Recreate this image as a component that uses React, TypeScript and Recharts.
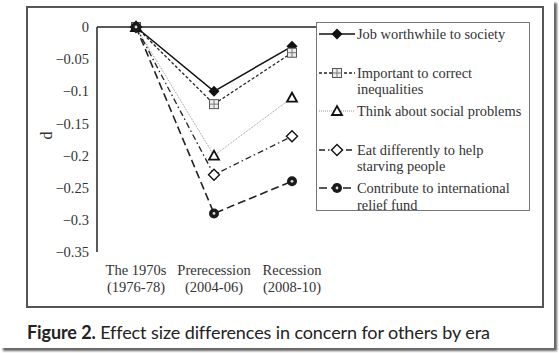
import React from 'react';
import {
  LineChart,
  Line,
  XAxis,
  YAxis,
  ReferenceLine,
  Legend,
} from 'recharts';

const categories = ['The 1970s', 'Prerecession', 'Recession'];
const periods = ['(1976-78)', '(2004-06)', '(2008-10)'];

const jobWorthwhile = [0, -0.1, -0.03];
const correctInequalities = [0, -0.12, -0.04];
const socialProblems = [0, -0.2, -0.11];
const eatDifferently = [0, -0.23, -0.17];
const reliefFund = [0, -0.29, -0.24];

const yTicks = [0, -0.05, -0.1, -0.15, -0.2, -0.25, -0.3, -0.35];

const series = [
  { key: 'job', label: ['Job worthwhile to society'], values: jobWorthwhile, marker: 'diamond', stroke: '#111', width: 1.5, dash: undefined },
  { key: 'ineq', label: ['Important to correct', 'inequalities'], values: correctInequalities, marker: 'square', stroke: '#222', width: 1.3, dash: '3 2' },
  { key: 'social', label: ['Think about social problems'], values: socialProblems, marker: 'triangle', stroke: '#999', width: 1, dash: '1 1' },
  { key: 'eat', label: ['Eat differently to help', 'starving people'], values: eatDifferently, marker: 'openDiamond', stroke: '#222', width: 1.3, dash: '6 3 1.5 3' },
  { key: 'fund', label: ['Contribute to international', 'relief fund'], values: reliefFund, marker: 'circle', stroke: '#222', width: 1.6, dash: '8 4' },
];

const data = categories.map((name, i) => {
  const row: Record<string, string | number> = { name };
  series.forEach((s) => {
    row[s.key] = s.values[i];
  });
  return row;
});

const serif = '"Liberation Serif", "Times New Roman", serif';

const Marker = ({ type, cx, cy }: { type: string; cx: number; cy: number }) => {
  if (type === 'diamond') {
    const r = 5.5;
    return <polygon points={`${cx},${cy - r} ${cx + r},${cy} ${cx},${cy + r} ${cx - r},${cy}`} fill="#111" />;
  }
  if (type === 'openDiamond') {
    const r = 5.5;
    return (
      <polygon
        points={`${cx},${cy - r} ${cx + r},${cy} ${cx},${cy + r} ${cx - r},${cy}`}
        fill="#fff"
        stroke="#111"
        strokeWidth={1.4}
      />
    );
  }
  if (type === 'square') {
    const h = 4.5;
    return (
      <g>
        <rect x={cx - h} y={cy - h} width={h * 2} height={h * 2} fill="#eee" stroke="#555" strokeWidth={1} />
        <line x1={cx} y1={cy - h} x2={cx} y2={cy + h} stroke="#777" strokeWidth={1} />
        <line x1={cx - h} y1={cy} x2={cx + h} y2={cy} stroke="#777" strokeWidth={1} />
      </g>
    );
  }
  if (type === 'triangle') {
    return (
      <polygon
        points={`${cx},${cy - 5} ${cx + 5},${cy + 4} ${cx - 5},${cy + 4}`}
        fill="#fff"
        stroke="#111"
        strokeWidth={1.8}
      />
    );
  }
  return (
    <g>
      <circle cx={cx} cy={cy} r={5} fill="#1a1a1a" />
      <circle cx={cx} cy={cy} r={1.4} fill="#ddd" />
    </g>
  );
};

const fmt = (v: number) => (v === 0 ? '0' : String(v).replace('-', '\u2212'));

const CategoryTick = (props: any) => {
  const { x, y, payload, index } = props;
  return (
    <text x={x} y={y} textAnchor="middle" fontFamily={serif} fontSize={14.5} fill="#333">
      <tspan x={x} dy={15}>{payload.value}</tspan>
      <tspan x={x} dy={17}>{periods[index]}</tspan>
    </text>
  );
};

const LegendBox = () => (
  <div
    style={{
      width: 214,
      height: 189,
      boxSizing: 'border-box',
      border: '1px solid #777',
      background: '#fff',
      padding: '3px 0 0 2px',
      fontFamily: serif,
      fontSize: 14.4,
      color: '#333',
    }}
  >
    {series.map((s) => (
      <div key={s.key} style={{ display: 'flex', height: 38.5 }}>
        <svg width={36} height={16} style={{ flex: 'none', marginRight: 2 }}>
          <line x1={0} y1={8} x2={36} y2={8} stroke={s.stroke} strokeWidth={s.width} strokeDasharray={s.dash} />
          <Marker type={s.marker} cx={18} cy={8} />
        </svg>
        <div style={{ lineHeight: '16.5px', whiteSpace: 'nowrap' }}>
          {s.label.map((l) => (
            <div key={l}>{l}</div>
          ))}
        </div>
      </div>
    ))}
  </div>
);

const App = () => {
  return (
    <div style={{ position: 'absolute', left: 0, top: 0, width: 559, height: 353, background: '#fff' }}>
      <div style={{ position: 'absolute', left: 0, top: 0, width: 554, height: 348, background: '#fff', boxShadow: '3px 3px 2px #666' }} />
      <div
        style={{
          position: 'absolute',
          left: 26,
          top: 6,
          width: 518,
          height: 302,
          boxSizing: 'border-box',
          border: '2px solid #555',
        }}
      />
      <div style={{ position: 'absolute', left: 0, top: 0 }}>
        <LineChart width={559} height={353} data={data} margin={{ top: 27, right: 228, left: 37, bottom: 61 }}>
          <XAxis
            dataKey="name"
            height={40}
            axisLine={false}
            tickLine={false}
            padding={{ left: 39, right: 39 }}
            interval={0}
            tick={<CategoryTick />}
          />
          <YAxis
            width={60}
            domain={[-0.35, 0]}
            ticks={yTicks}
            tickFormatter={fmt}
            tickLine={false}
            axisLine={{ stroke: '#222', strokeWidth: 1.5 }}
            tick={{ fontFamily: serif, fontSize: 14.5, fill: '#333' }}
            label={{ value: 'd', angle: -90, position: 'insideLeft', offset: 9, fontFamily: serif, fontSize: 16, fill: '#333' }}
          />
          <ReferenceLine y={0} stroke="#222" strokeWidth={1.5} />
          {series.map((s) => (
            <Line
              key={s.key}
              dataKey={s.key}
              name={s.label.join(' ')}
              type="linear"
              stroke={s.stroke}
              strokeWidth={s.width}
              strokeDasharray={s.dash}
              isAnimationActive={false}
              dot={(p: any) => <Marker key={`${s.key}-${p.index}`} type={s.marker} cx={p.cx} cy={p.cy} />}
              activeDot={false}
            />
          ))}
          <Legend
            layout="horizontal"
            verticalAlign="middle"
            wrapperStyle={{ left: 316, top: 22, width: 214, height: 189 }}
            content={() => <LegendBox />}
          />
        </LineChart>
      </div>
      <div
        style={{
          position: 'absolute',
          left: 27,
          top: 321,
          fontFamily: 'Lato, "Open Sans", sans-serif',
          fontSize: 18,
          lineHeight: '22px',
          letterSpacing: -0.1,
          color: '#222',
          whiteSpace: 'nowrap',
        }}
      >
        <b>Figure 2.</b> Effect size differences in concern for others by era
      </div>
    </div>
  );
};

export default App;
